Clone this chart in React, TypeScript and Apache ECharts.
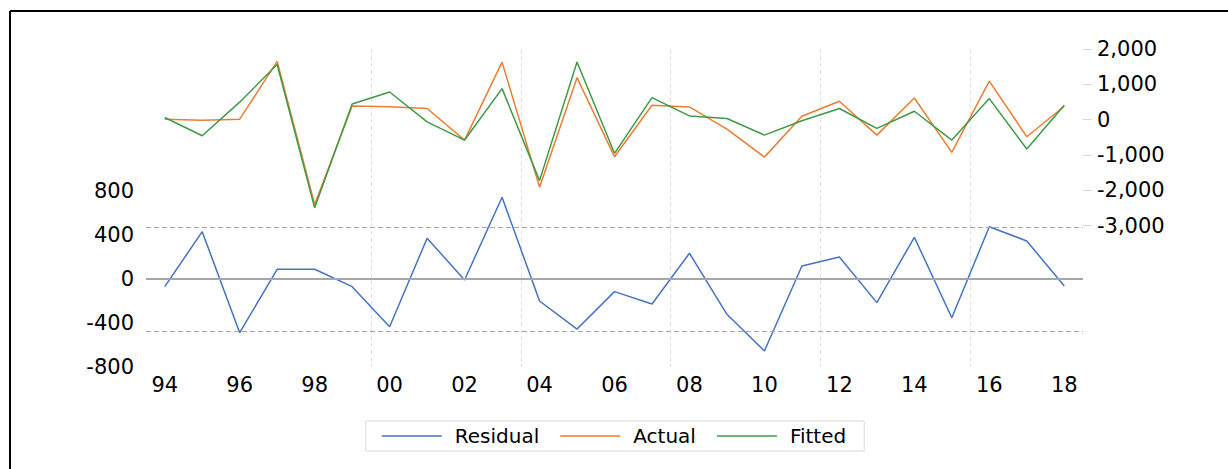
import React, { useEffect, useRef } from "react";
import * as echarts from "echarts";

const years = ["94","95","96","97","98","99","00","01","02","03","04","05","06","07","08","09","10","11","12","13","14","15","16","17","18"];
const residual = [-70, 430, -488, 88, 88, -70, -434, 370, -9, 743, -200, -455, -115, -227, 234, -321, -655, 118, 200, -215, 379, -352, 475, 345, -64];
const actual = [15, -15, 15, 1648, -2400, 389, 365, 315, -577, 1628, -1910, 1189, -1048, 408, 361, -268, -1060, 95, 521, -437, 614, -924, 1093, -484, 380];
const fitted = [60, -456, 495, 1563, -2495, 445, 783, -62, -577, 879, -1725, 1630, -952, 625, 107, 34, -437, -32, 315, -248, 239, -577, 597, -831, 408];
const leftTicks = [-800, -400, 0, 400, 800];
const rightTicks = [-3000, -2000, -1000, 0, 1000, 2000];
const seBand = 473;

const FONT = "DejaVu Sans";

export default function App() {
  const ref = useRef<HTMLDivElement>(null);
  useEffect(() => {
    if (!ref.current) return;
    const chart = echarts.init(ref.current, null, { renderer: "svg" });
    chart.setOption({
      animation: false,
      backgroundColor: "#ffffff",
      textStyle: { fontFamily: FONT },
      grid: { left: 146, right: 145, top: 49, bottom: 102 },
      graphic: [
        { type: "line", shape: { x1: 10, y1: 11, x2: 1228, y2: 11 }, style: { stroke: "#000", lineWidth: 2 }, z: 100 },
        { type: "line", shape: { x1: 10, y1: 11, x2: 10, y2: 469 }, style: { stroke: "#000", lineWidth: 2 }, z: 100 },
      ],
      legend: {
        top: 421,
        left: "center",
        data: ["Residual", "Actual", "Fitted"],
        icon: "rect",
        itemWidth: 60,
        itemHeight: 1.5,
        itemGap: 21,
        borderColor: "#d9d9d9",
        borderWidth: 1,
        padding: [5, 18, 5, 16],
        textStyle: { fontFamily: FONT, fontSize: 20, color: "#000", padding: [0, 0, 0, 8] },
      },
      xAxis: {
        type: "category",
        data: years,
        boundaryGap: true,
        axisLine: { show: false },
        axisTick: { show: false },
        axisLabel: { interval: 1, fontFamily: FONT, fontSize: 21, color: "#000", margin: 7 },
        splitLine: {
          show: true,
          showMinLine: false,
          showMaxLine: false,
          interval: (i: number) => i % 4 === 2,
          lineStyle: { color: "#e0e0e0", type: [4, 3], width: 1 },
        },
      },
      yAxis: [
        {
          type: "value",
          position: "left",
          min: -800,
          max: 2090,
          interval: 400,
          axisLine: { show: false },
          axisTick: { show: false },
          splitLine: { show: false },
          axisLabel: { customValues: leftTicks, fontFamily: FONT, fontSize: 21, color: "#000", margin: 12 },
        },
        {
          type: "value",
          position: "right",
          min: -7000,
          max: 2000,
          interval: 1000,
          axisLine: { show: false },
          axisTick: { show: true, customValues: rightTicks, length: 9, lineStyle: { color: "#d9d9d9", width: 1 } },
          splitLine: { show: false },
          axisLabel: {
            customValues: rightTicks,
            fontFamily: FONT,
            fontSize: 21,
            color: "#000",
            margin: 14,
            formatter: (v: number) => v.toLocaleString("en-US"),
          },
        },
      ],
      series: [
        {
          name: "Residual",
          type: "line",
          yAxisIndex: 0,
          data: residual,
          symbol: "none",
          lineStyle: { color: "#4472c4", width: 1.5 },
          itemStyle: { color: "#4472c4" },
          markLine: {
            silent: true,
            symbol: "none",
            label: { show: false },
            data: [
              { yAxis: 0, lineStyle: { color: "#a6a6a6", width: 2, type: "solid" } },
              { yAxis: seBand, lineStyle: { color: "#a6a6a6", width: 1, type: [5, 3] } },
              { yAxis: -seBand, lineStyle: { color: "#a6a6a6", width: 1, type: [5, 3] } },
            ],
          },
        },
        {
          name: "Actual",
          type: "line",
          yAxisIndex: 1,
          data: actual,
          symbol: "none",
          lineStyle: { color: "#ed7d31", width: 1.5 },
          itemStyle: { color: "#ed7d31" },
        },
        {
          name: "Fitted",
          type: "line",
          yAxisIndex: 1,
          data: fitted,
          symbol: "none",
          lineStyle: { color: "#3d9a47", width: 1.5 },
          itemStyle: { color: "#3d9a47" },
        },
      ],
    });
    return () => chart.dispose();
  }, []);
  return <div ref={ref} style={{ position: "fixed", left: 0, top: 0, width: 1228, height: 469 }} />;
}
